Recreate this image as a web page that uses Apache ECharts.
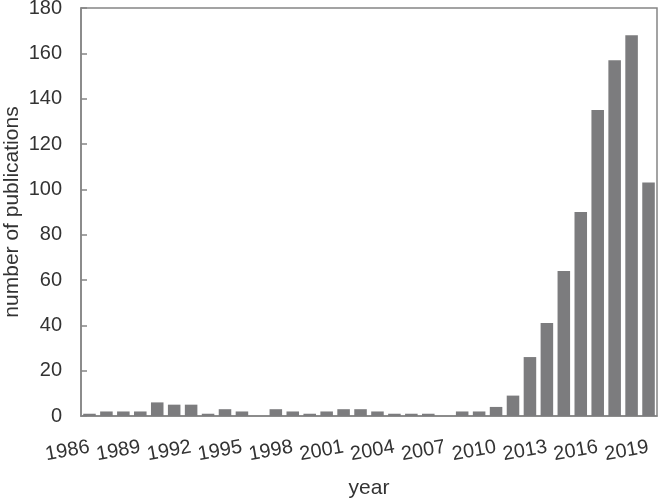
<!DOCTYPE html>
<html>
<head>
<meta charset="utf-8">
<script src="https://cdn.jsdelivr.net/npm/echarts@6/dist/echarts.min.js"></script>
<style>
    html, body { margin: 0; padding: 0; background: #fff; }
    #main { width: 659px; height: 498px; }
</style>
</head>
<body>
<div id="main"></div>
<script>
    // publication counts per year
    var years = [];
    for (var y = 1986; y <= 2019; y++) { years.push(String(y)); }
    var counts = [
        1, 2, 2, 2, 6, 5, 5, 1, 3, 2,      // 1986-1995
        0, 3, 2, 1, 2, 3, 3, 2, 1, 1,      // 1996-2005
        1, 0, 2, 2, 4, 9, 26, 41, 64, 90,  // 2006-2015
        135, 157, 168, 103                 // 2016-2019
    ];

    var font = '"Liberation Sans", Arial, sans-serif';
    var axisGray = '#858585';
    var textGray = '#333333';

    var myChart = echarts.init(document.getElementById('main'));
    myChart.setOption({
        backgroundColor: '#ffffff',
        animation: false,
        grid: {
            left: 81,
            right: 2,
            top: 8,
            bottom: 82,
            containLabel: false,
            outerBoundsMode: 'none',
            show: true,
            borderColor: axisGray,
            borderWidth: 1.5
        },
        xAxis: {
            type: 'category',
            data: years,
            name: 'year',
            nameLocation: 'middle',
            nameGap: 62,
            nameMoveOverlap: false,
            nameTextStyle: { fontFamily: font, fontSize: 21, color: textGray },
            axisLine: { lineStyle: { color: axisGray, width: 1.5 } },
            axisTick: { show: false },
            axisLabel: {
                interval: 2,
                rotate: 10,
                margin: 31,
                fontFamily: font,
                fontSize: 20,
                color: textGray
            }
        },
        yAxis: {
            type: 'value',
            min: 0,
            max: 180,
            interval: 20,
            name: 'number of publications',
            nameLocation: 'middle',
            nameGap: 58,
            nameMoveOverlap: false,
            nameTextStyle: { fontFamily: font, fontSize: 21, color: textGray },
            axisLine: { show: true, lineStyle: { color: axisGray, width: 1.5 } },
            axisTick: { show: true, inside: true, length: 6, lineStyle: { color: axisGray, width: 1.5 } },
            splitLine: { show: false },
            axisLabel: {
                margin: 19,
                fontFamily: font,
                fontSize: 20,
                color: textGray
            }
        },
        series: [{
            type: 'bar',
            data: counts,
            barCategoryGap: '26%',
            itemStyle: { color: '#7c7c7e' }
        }]
    });
</script>
</body>
</html>
